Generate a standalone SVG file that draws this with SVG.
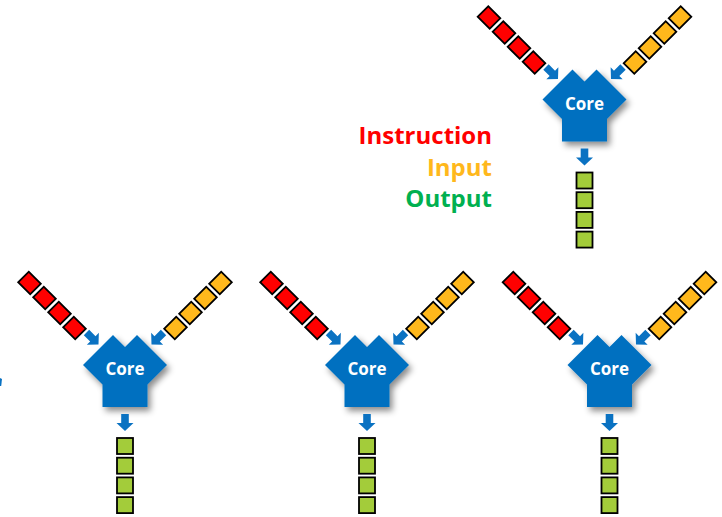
<svg xmlns="http://www.w3.org/2000/svg" xmlns:xlink="http://www.w3.org/1999/xlink" width="722" height="517" viewBox="0 0 722 517">
  <style>
    .core { fill: #0070C0; }
    .core-label { font-family: "Open Sans", "Liberation Sans", sans-serif; font-weight: bold; font-size: 17px; fill: #ffffff; text-anchor: middle; }
    .ins { fill: #FF0000; stroke: #000; stroke-width: 1.8; }
    .inp { fill: #FFB81C; stroke: #000; stroke-width: 1.8; }
    .out { fill: #A3CC3A; stroke: #000; stroke-width: 1.8; }
    .arrow { fill: #0A72C2; }
    .legend { font-family: "Open Sans", "Liberation Sans", sans-serif; font-weight: bold; font-size: 24px; text-anchor: end; }
  </style>
  <defs>
    <filter id="shadow" x="-30%" y="-30%" width="170%" height="170%">
      <feDropShadow dx="3" dy="4" stdDeviation="3" flood-color="#000" flood-opacity="0.45"/>
    </filter>
    <!-- core outline: two overlapping diamonds over a rectangle, origin at top centre -->
    <polygon id="core-shape" class="core" points="-42,30 -12,0 0,12 12,0 42,30 22.5,49.5 22.5,72 -22.5,72 -22.5,49.5"/>
    <rect id="cell" x="-8.5" y="-7.5" width="17" height="15"/>
    <rect id="ocell" x="-8" y="-8" width="16" height="16"/>
    <!-- block arrow, tip at origin, pointing down -->
    <path id="arrow" d="M-3.8,-17 H3.8 V-8 H8.5 L0,0 L-8.5,-8 H-3.8 Z"/>
  </defs>

  <rect width="722" height="517" fill="#ffffff"/>

  <!-- legend -->
  <g id="legend" class="legend">
    <text x="492" y="144" fill="#FF0000">Instruction</text>
    <text x="492" y="175.5" fill="#FFB81C">Input</text>
    <text x="492" y="207" fill="#00B050">Output</text>
  </g>

  <!-- top unit -->
  <g id="unit-top" transform="translate(584.5,69.5)">
    <g id="unit-top-instructions" class="ins">
      <use xlink:href="#cell" transform="translate(-50.5,-7) rotate(45)"/>
      <use xlink:href="#cell" transform="translate(-65.5,-22) rotate(45)"/>
      <use xlink:href="#cell" transform="translate(-80.5,-37) rotate(45)"/>
      <use xlink:href="#cell" transform="translate(-95.5,-52) rotate(45)"/>
    </g>
    <g id="unit-top-inputs" class="inp">
      <use xlink:href="#cell" transform="translate(50.5,-7) rotate(-45)"/>
      <use xlink:href="#cell" transform="translate(65.5,-22) rotate(-45)"/>
      <use xlink:href="#cell" transform="translate(80.5,-37) rotate(-45)"/>
      <use xlink:href="#cell" transform="translate(95.5,-52) rotate(-45)"/>
    </g>
    <g id="core-top">
      <use xlink:href="#core-shape" filter="url(#shadow)"/>
      <text class="core-label" x="0" y="40">Core</text>
    </g>
    <g id="unit-top-outputs" class="out">
      <use xlink:href="#ocell" transform="translate(0,111)"/>
      <use xlink:href="#ocell" transform="translate(0,130.7)"/>
      <use xlink:href="#ocell" transform="translate(0,150.4)"/>
      <use xlink:href="#ocell" transform="translate(0,170.1)"/>
    </g>
  </g>

  <!-- bottom row units -->
  <g id="unit-1" transform="translate(125,335)">
    <g id="unit-1-instructions" class="ins">
      <use xlink:href="#cell" transform="translate(-50.5,-7) rotate(45)"/>
      <use xlink:href="#cell" transform="translate(-65.5,-22) rotate(45)"/>
      <use xlink:href="#cell" transform="translate(-80.5,-37) rotate(45)"/>
      <use xlink:href="#cell" transform="translate(-95.5,-52) rotate(45)"/>
    </g>
    <g id="unit-1-inputs" class="inp">
      <use xlink:href="#cell" transform="translate(50.5,-7) rotate(-45)"/>
      <use xlink:href="#cell" transform="translate(65.5,-22) rotate(-45)"/>
      <use xlink:href="#cell" transform="translate(80.5,-37) rotate(-45)"/>
      <use xlink:href="#cell" transform="translate(95.5,-52) rotate(-45)"/>
    </g>
    <g id="core-1">
      <use xlink:href="#core-shape" filter="url(#shadow)"/>
      <text class="core-label" x="0" y="40">Core</text>
    </g>
    <g id="unit-1-outputs" class="out">
      <use xlink:href="#ocell" transform="translate(0,111)"/>
      <use xlink:href="#ocell" transform="translate(0,130.7)"/>
      <use xlink:href="#ocell" transform="translate(0,150.4)"/>
      <use xlink:href="#ocell" transform="translate(0,170.1)"/>
    </g>
  </g>

  <g id="unit-2" transform="translate(367,335)">
    <g id="unit-2-instructions" class="ins">
      <use xlink:href="#cell" transform="translate(-50.5,-7) rotate(45)"/>
      <use xlink:href="#cell" transform="translate(-65.5,-22) rotate(45)"/>
      <use xlink:href="#cell" transform="translate(-80.5,-37) rotate(45)"/>
      <use xlink:href="#cell" transform="translate(-95.5,-52) rotate(45)"/>
    </g>
    <g id="unit-2-inputs" class="inp">
      <use xlink:href="#cell" transform="translate(50.5,-7) rotate(-45)"/>
      <use xlink:href="#cell" transform="translate(65.5,-22) rotate(-45)"/>
      <use xlink:href="#cell" transform="translate(80.5,-37) rotate(-45)"/>
      <use xlink:href="#cell" transform="translate(95.5,-52) rotate(-45)"/>
    </g>
    <g id="core-2">
      <use xlink:href="#core-shape" filter="url(#shadow)"/>
      <text class="core-label" x="0" y="40">Core</text>
    </g>
    <g id="unit-2-outputs" class="out">
      <use xlink:href="#ocell" transform="translate(0,111)"/>
      <use xlink:href="#ocell" transform="translate(0,130.7)"/>
      <use xlink:href="#ocell" transform="translate(0,150.4)"/>
      <use xlink:href="#ocell" transform="translate(0,170.1)"/>
    </g>
  </g>

  <g id="unit-3" transform="translate(609.5,335)">
    <g id="unit-3-instructions" class="ins">
      <use xlink:href="#cell" transform="translate(-50.5,-7) rotate(45)"/>
      <use xlink:href="#cell" transform="translate(-65.5,-22) rotate(45)"/>
      <use xlink:href="#cell" transform="translate(-80.5,-37) rotate(45)"/>
      <use xlink:href="#cell" transform="translate(-95.5,-52) rotate(45)"/>
    </g>
    <g id="unit-3-inputs" class="inp">
      <use xlink:href="#cell" transform="translate(50.5,-7) rotate(-45)"/>
      <use xlink:href="#cell" transform="translate(65.5,-22) rotate(-45)"/>
      <use xlink:href="#cell" transform="translate(80.5,-37) rotate(-45)"/>
      <use xlink:href="#cell" transform="translate(95.5,-52) rotate(-45)"/>
    </g>
    <g id="core-3">
      <use xlink:href="#core-shape" filter="url(#shadow)"/>
      <text class="core-label" x="0" y="40">Core</text>
    </g>
    <g id="unit-3-outputs" class="out">
      <use xlink:href="#ocell" transform="translate(0,111)"/>
      <use xlink:href="#ocell" transform="translate(0,130.7)"/>
      <use xlink:href="#ocell" transform="translate(0,150.4)"/>
      <use xlink:href="#ocell" transform="translate(0,170.1)"/>
    </g>
  </g>

  <!-- block arrows: streams into each core, results out of it -->
  <g id="connectors" class="arrow">
    <use xlink:href="#arrow" transform="translate(558,79) rotate(-45)"/>
    <use xlink:href="#arrow" transform="translate(611,79) rotate(45)"/>
    <use xlink:href="#arrow" transform="translate(584.5,165.5)"/>

    <use xlink:href="#arrow" transform="translate(98.5,344.5) rotate(-45)"/>
    <use xlink:href="#arrow" transform="translate(151.5,344.5) rotate(45)"/>
    <use xlink:href="#arrow" transform="translate(125,431)"/>

    <use xlink:href="#arrow" transform="translate(340.5,344.5) rotate(-45)"/>
    <use xlink:href="#arrow" transform="translate(393.5,344.5) rotate(45)"/>
    <use xlink:href="#arrow" transform="translate(367,431)"/>

    <use xlink:href="#arrow" transform="translate(583,344.5) rotate(-45)"/>
    <use xlink:href="#arrow" transform="translate(636,344.5) rotate(45)"/>
    <use xlink:href="#arrow" transform="translate(609.5,431)"/>

    <!-- sliver of a neighbouring arrow at the left edge -->
    <polygon points="0,378 2,379 1.2,386 0,386"/>
  </g>
</svg>
